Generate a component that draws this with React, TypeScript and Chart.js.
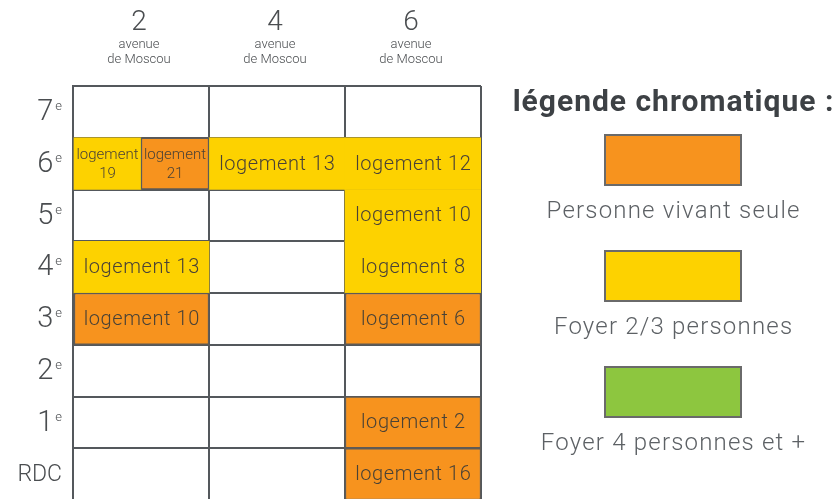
import React, { useEffect, useRef } from 'react';
import { Chart, registerables } from 'chart.js';

Chart.register(...registerables);

// ---- data ----
const floors = ['7e', '6e', '5e', '4e', '3e', '2e', '1e', 'RDC'];
const buildingNumbers = ['2', '4', '6'];
const buildingStreet = ['avenue', 'de Moscou'];
const legendTitle = 'légende chromatique :';
const categories = ['Personne vivant seule', 'Foyer 2/3 personnes', 'Foyer 4 personnes et +'];
const categoryColors = ['#F7931E', '#FDD200', '#8DC63F'];

const logementNames = ['logement 19', 'logement 21', 'logement 13', 'logement 12', 'logement 10', 'logement 13', 'logement 8', 'logement 10', 'logement 6', 'logement 2', 'logement 16'];
const logementFloors = ['6e', '6e', '6e', '6e', '5e', '4e', '4e', '3e', '3e', '1e', 'RDC'];
const logementFrom = [0, 0.5, 1, 2, 2, 0, 2, 0, 2, 2, 2];
const logementTo = [0.5, 1, 2, 3, 3, 1, 3, 1, 3, 3, 3];
const logementCategory = [1, 0, 1, 1, 1, 1, 1, 0, 0, 0, 0];

const FONT = 'Roboto, "Noto Sans", sans-serif';
const LINE = '#54585c';
const TEXT = '#4a4d50';

function setSpacing(ctx: any, px: number) {
  if ('letterSpacing' in ctx) ctx.letterSpacing = `${px}px`;
}

const labelsPlugin = {
  id: 'cellLabels',
  afterDatasetsDraw(chart: any) {
    const ctx = chart.ctx;
    ctx.save();
    ctx.fillStyle = '#4a4236';
    ctx.textAlign = 'center';
    ctx.textBaseline = 'middle';
    chart.data.datasets.forEach((ds: any, di: number) => {
      const meta = chart.getDatasetMeta(di);
      meta.data.forEach((el: any, i: number) => {
        const item = ds.data[i];
        if (!item || !item.name) return;
        const { x, y, base } = el.getProps(['x', 'y', 'base'], true);
        const cx = (x + base) / 2;
        const w = Math.abs(x - base);
        if (w < 100) {
          const parts = item.name.split(' ');
          setSpacing(ctx, 0);
          ctx.font = `300 15px ${FONT}`;
          ctx.fillText(parts[0], cx, y - 8);
          ctx.fillText(parts[1], cx, y + 11);
        } else {
          setSpacing(ctx, 0.6);
          ctx.font = `300 20px ${FONT}`;
          ctx.fillText(item.name, cx + 0.3, y + 1);
        }
      });
    });
    ctx.restore();
  },
};

const framePlugin = {
  id: 'frameText',
  afterDraw(chart: any) {
    const ctx = chart.ctx;
    const xs = chart.scales.x;
    const ys = chart.scales.y;
    const area = chart.chartArea;
    ctx.save();
    ctx.fillStyle = TEXT;
    ctx.textAlign = 'center';
    ctx.textBaseline = 'middle';
    // column headers
    buildingNumbers.forEach((n, i) => {
      const cx = xs.getPixelForValue(i + 0.5) - 2;
      ctx.font = `300 28px ${FONT}`;
      ctx.fillText(n, cx, 23);
      ctx.font = `300 13px ${FONT}`;
      ctx.fillText(buildingStreet[0], cx, 45);
      ctx.fillText(buildingStreet[1], cx, 60);
    });
    // floor labels
    floors.forEach((f, i) => {
      const cy = ys.getPixelForValue(i);
      const right = area.left - 11;
      ctx.textAlign = 'right';
      if (f.endsWith('e')) {
        const num = f.slice(0, -1);
        ctx.font = `300 13px ${FONT}`;
        const ew = ctx.measureText('e').width;
        ctx.fillText('e', right, cy - 5);
        ctx.font = `300 29px ${FONT}`;
        ctx.fillText(num, right - ew - 2, cy + 1);
      } else {
        ctx.font = `300 23px ${FONT}`;
        ctx.fillText(f, right, cy + 1);
      }
    });
    // legend
    const lx = 673;
    ctx.textAlign = 'center';
    ctx.fillStyle = '#3d4145';
    setSpacing(ctx, 1);
    ctx.font = `bold 30px ${FONT}`;
    ctx.fillText(legendTitle, lx + 0.5, 103);
    const boxTops = [135, 251, 367];
    categories.forEach((c, i) => {
      const top = boxTops[i];
      ctx.fillStyle = categoryColors[i];
      ctx.fillRect(605, top, 136, 50);
      ctx.strokeStyle = '#6a6a6a';
      ctx.lineWidth = 2;
      ctx.strokeRect(605, top, 136, 50);
      ctx.fillStyle = '#5d6165';
      setSpacing(ctx, 1.2);
      ctx.font = `300 24px ${FONT}`;
      ctx.fillText(c, lx + 0.6, top + 77);
    });
    ctx.restore();
  },
};

export default function App() {
  const canvasRef = useRef<HTMLCanvasElement | null>(null);

  useEffect(() => {
    if (!canvasRef.current) return;
    const datasets = categories.map((cat, ci) => ({
      label: cat,
      data: logementNames
        .map((name, i) => ({ name, y: logementFloors[i], x: [logementFrom[i], logementTo[i]], c: logementCategory[i] }))
        .filter((d) => d.c === ci),
      backgroundColor: categoryColors[ci],
      borderColor: ci === 0 ? '#5f5a55' : categoryColors[ci],
      borderWidth: ci === 0 ? 1.5 : 0,
      borderSkipped: false,
      grouped: false,
      barPercentage: 1,
      categoryPercentage: 1,
    }));

    const chart = new Chart(canvasRef.current, {
      type: 'bar',
      data: { labels: floors, datasets: datasets as any },
      options: {
        indexAxis: 'y',
        animation: false,
        responsive: true,
        maintainAspectRatio: false,
        layout: { padding: { left: 73, right: 356, top: 86, bottom: 2 } },
        plugins: { legend: { display: false }, tooltip: { enabled: false } },
        scales: {
          x: {
            type: 'linear',
            min: 0,
            max: 3,
            ticks: { display: false, stepSize: 1 },
            grid: { color: LINE, lineWidth: 2, drawTicks: false },
            border: { display: true, color: LINE, width: 2 },
          },
          y: {
            type: 'category',
            offset: true,
            ticks: { display: false },
            grid: { color: LINE, lineWidth: 2, drawTicks: false, offset: true },
            border: { display: true, color: LINE, width: 2 },
          },
        },
      },
      plugins: [labelsPlugin, framePlugin],
    });
    return () => chart.destroy();
  }, []);

  return (
    <div style={{ position: 'fixed', left: 0, top: 0, width: 837, height: 499, overflow: 'hidden', background: '#fff' }}>
      <div style={{ position: 'absolute', left: 0, top: 0, width: 837, height: 502 }}>
        <canvas ref={canvasRef} />
      </div>
    </div>
  );
}
